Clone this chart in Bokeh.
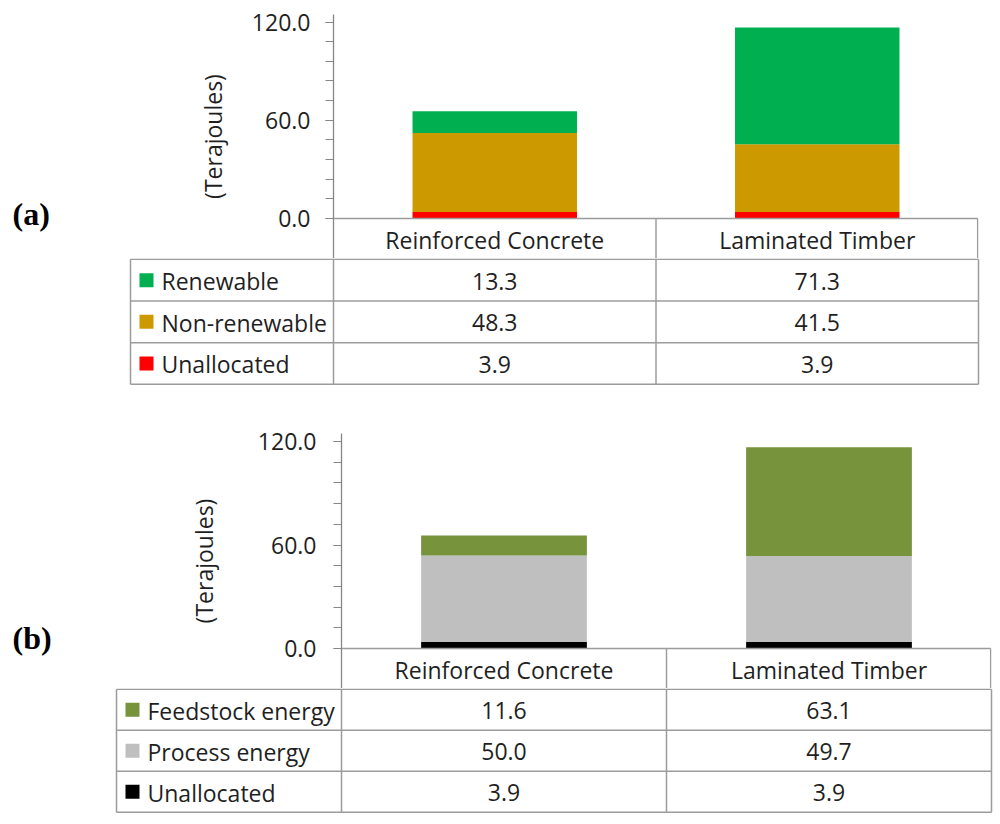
from bokeh.plotting import figure
from bokeh.models import FactorRange, Range1d, FixedTicker, PrintfTickFormatter, ColumnDataSource
from bokeh.layouts import column, row
from bokeh.embed import file_html
from bokeh.resources import INLINE
from bokeh.core.properties import value

# ---------------- data ----------------
categories = ["Reinforced Concrete", "Laminated Timber"]

a_series = ["Renewable", "Non-renewable", "Unallocated"]      # table order, top to bottom
a_renewable = [13.3, 71.3]
a_nonrenewable = [48.3, 41.5]
a_unallocated = [3.9, 3.9]
a_colors = ["#00B050", "#CC9900", "#FF0000"]

b_series = ["Feedstock energy", "Process energy", "Unallocated"]
b_feedstock = [11.6, 63.1]
b_process = [50.0, 49.7]
b_unallocated = [3.9, 3.9]
b_colors = ["#77933C", "#BFBFBF", "#000000"]

y_ticks = [0, 60, 120]
y_minor_ticks = [0, 12, 24, 36, 48, 60, 72, 84, 96, 108, 120]
y_label = "(Terajoules)"
panel_tags = ["(a)", "(b)"]

# ---------------- styling ----------------
TAGW = 68                 # width of the strip holding the panel tag
X0 = TAGW                 # page x where the chart/table figures start
W = 996 - X0
FONT = "Open Sans"
TXT = "#1f1f1f"
GRID = "#9c9c9c"
AXIS = "#868686"
TFS = "23px"


def no_align(p):
    try:
        p.frame_align = False
    except Exception:
        pass


def make_chart(series, values, colors, top, frame_top, zero_y, header_bottom, axis_x, right_x, ppu,
               label_standoff, title_standoff):
    H = header_bottom - top
    ymax = (zero_y - frame_top) / ppu
    ymin = -(header_bottom - zero_y) / ppu
    unit = (right_x - axis_x) / 2.0
    p = figure(x_range=FactorRange(factors=categories), y_range=Range1d(ymin, ymax),
               width=W, height=H, output_backend="svg", toolbar_location=None,
               x_axis_location=None,
               min_border_left=axis_x - X0, min_border_right=X0 + W - right_x,
               min_border_top=frame_top - top, min_border_bottom=0)
    no_align(p)
    data = {"cat": categories}
    for name, vals in zip(series, values):
        data[name] = vals
    src = ColumnDataSource(data)
    p.vbar_stack(list(reversed(series)), x="cat", width=0.51, source=src,
                 fill_color=list(reversed(colors)), line_color=None)
    p.grid.visible = False
    p.outline_line_color = None
    # header row of the data table (category names) below the zero line
    xr = 2 - 0.8 / unit
    p.segment(x0=[0, 1, xr], x1=[xr, 1, xr], y0=[0, ymin, ymin], y1=[0, 0, 0],
              line_color=GRID, line_width=1.5)
    p.text(x=categories, y=[ymin / 2.0] * 2, text=categories, text_align="center",
           text_baseline="middle", text_font=value(FONT), text_font_size=TFS,
           text_color=TXT, y_offset=1)
    ax = p.yaxis[0]
    ax.ticker = FixedTicker(ticks=y_ticks, minor_ticks=y_minor_ticks)
    ax.formatter = PrintfTickFormatter(format="%.1f")
    ax.major_tick_out = 8
    ax.major_tick_in = 0
    ax.minor_tick_out = 8
    ax.minor_tick_in = 0
    ax.axis_line_color = AXIS
    ax.axis_line_width = 1.3
    ax.major_tick_line_color = AXIS
    ax.minor_tick_line_color = AXIS
    ax.major_tick_line_width = 1.2
    ax.minor_tick_line_width = 1.2
    ax.major_label_text_font = FONT
    ax.major_label_text_font_size = "23px"
    ax.major_label_text_color = TXT
    ax.major_label_standoff = label_standoff
    ax.axis_label = y_label
    ax.axis_label_text_font = FONT
    ax.axis_label_text_font_size = "23px"
    ax.axis_label_text_font_style = "normal"
    ax.axis_label_text_color = TXT
    ax.axis_label_standoff = title_standoff
    return p


def make_table(series, values, colors, top, bottom_y, fig_bottom, left_x, axis_x, right_x):
    unit = (right_x - axis_x) / 2.0
    row_h = (bottom_y - top) / 3.0
    pad = 0.8
    fx0 = left_x - 2
    fx1 = min(right_x + 2, X0 + W)
    fy1 = bottom_y + 2
    p = figure(x_range=Range1d((fx0 - axis_x) / unit, (fx1 - axis_x) / unit),
               y_range=Range1d(1 + (fy1 - top - pad) / row_h, 1 - pad / row_h),
               width=W, height=fig_bottom - top, output_backend="svg", toolbar_location=None,
               x_axis_location=None, y_axis_location=None,
               min_border_left=fx0 - X0, min_border_right=X0 + W - fx1,
               min_border_top=0, min_border_bottom=fig_bottom - fy1)
    no_align(p)
    p.grid.visible = False
    p.outline_line_color = None
    xl = (left_x - axis_x) / unit
    hy = [1, 2, 3, 4]
    p.segment(x0=[xl] * 4, x1=[2] * 4, y0=hy, y1=hy, line_color=GRID, line_width=1.5)
    vx = [xl, 0, 1, 2]
    p.segment(x0=vx, x1=vx, y0=[1] * 4, y1=[4] * 4, line_color=GRID, line_width=1.5)
    rows = [1.5, 2.5, 3.5]
    p.rect(x=[(left_x + 16 - axis_x) / unit] * 3, y=rows, width=14, height=14,
           width_units="screen", height_units="screen", fill_color=colors, line_color=None)
    p.text(x=[(left_x + 31 - axis_x) / unit] * 3, y=rows, text=series, text_align="left",
           text_baseline="middle", text_font=value(FONT), text_font_size=TFS,
           text_color=TXT, y_offset=1)
    tx, ty, tt = [], [], []
    for r, vals in zip(rows, values):
        for j, v in enumerate(vals):
            tx.append(j + 0.5)
            ty.append(r)
            tt.append("%.1f" % v)
    p.text(x=tx, y=ty, text=tt, text_align="center", text_baseline="middle",
           text_font=value(FONT), text_font_size=TFS, text_color=TXT, y_offset=1)
    return p


def make_tag(tag, top, bottom, base_y):
    p = figure(x_range=Range1d(0, X0), y_range=Range1d(bottom, top),
               width=TAGW, height=bottom - top, output_backend="svg", toolbar_location=None,
               x_axis_location=None, y_axis_location=None,
               min_border_left=0, min_border_right=0, min_border_top=0, min_border_bottom=0)
    no_align(p)
    p.grid.visible = False
    p.outline_line_color = None
    p.text(x=[12], y=[base_y], text=[tag], text_align="left", text_baseline="alphabetic",
           text_font=value("Liberation Serif"), text_font_style="bold",
           text_font_size="32px", text_color="#000000")
    return p


a_values = [a_renewable, a_nonrenewable, a_unallocated]
b_values = [b_feedstock, b_process, b_unallocated]

chart_a = make_chart(a_series, a_values, a_colors, top=0, frame_top=14, zero_y=218,
                     header_bottom=258, axis_x=333, right_x=978, ppu=1.6375,
                     label_standoff=15, title_standoff=20)
table_a = make_table(a_series, a_values, a_colors, top=258, bottom_y=383,
                     fig_bottom=425, left_x=130, axis_x=333, right_x=978)
tag_a = make_tag(panel_tags[0], 0, 425, 213)

chart_b = make_chart(b_series, b_values, b_colors, top=425, frame_top=433, zero_y=648,
                     header_bottom=688, axis_x=341, right_x=991, ppu=1.725,
                     label_standoff=17, title_standoff=35)
table_b = make_table(b_series, b_values, b_colors, top=688, bottom_y=811,
                     fig_bottom=818, left_x=116, axis_x=341, right_x=991)
tag_b = make_tag(panel_tags[1], 425, 818, 637)

layout = column(row(tag_a, column(chart_a, table_a, spacing=0), spacing=0),
                row(tag_b, column(chart_b, table_b, spacing=0), spacing=0), spacing=0)
open("out.html", "w").write(file_html(layout, INLINE))
